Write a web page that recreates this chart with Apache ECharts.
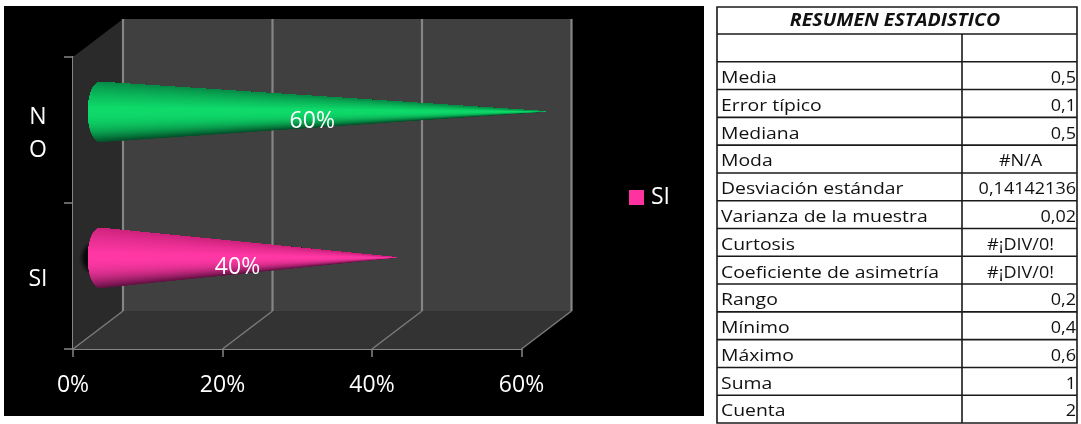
<!DOCTYPE html>
<html><head><meta charset="utf-8">
<style>html,body{margin:0;padding:0;background:#fff}#c{width:1081px;height:424px}</style>
<script src="https://cdn.jsdelivr.net/npm/echarts@6/dist/echarts.min.js"></script>
</head><body><div id="c"></div>
<script>
const categories = ['SI', 'N\nO'];
const values = [0.4, 0.6];
const xTicks = [0, 0.2, 0.4, 0.6];
const seriesName = 'SI';
const tableTitle = 'RESUMEN ESTADISTICO';
const statNames = ['', 'Media', 'Error típico', 'Mediana', 'Moda', 'Desviación estándar', 'Varianza de la muestra', 'Curtosis', 'Coeficiente de asimetría', 'Rango', 'Mínimo', 'Máximo', 'Suma', 'Cuenta'];
const statValues = ['', '0,5', '0,1', '0,5', '#N/A', '0,14142136', '0,02', '#¡DIV/0!', '#¡DIV/0!', '0,2', '0,4', '0,6', '1', '2'];

const palettes = [
  {top:[205,36,125], hi:[255,56,165], bot:[100,18,68]},
  {top:[8,140,72], hi:[15,218,106], bot:[4,80,42]}
];
const DX = 50, DY = 38;
const chartFont = '"Open Sans", sans-serif';
const tableFont = '"Open Sans", sans-serif';

function mix(a, b, t) {
  return 'rgb(' + a.map((v, i) => Math.round(v + (b[i] - v) * t)).join(',') + ')';
}
function shade(p, s) { // s from -1 (top) to 1 (bottom)
  const c = -0.15;
  if (s < c) { const t = (s + 1) / (c + 1); return mix(p.top, p.hi, Math.pow(t, 0.8)); }
  const t = (s - c) / (1 - c); return mix(p.hi, p.bot, Math.pow(t, 2.6));
}

function renderFrame(params, api) {
  const r = params.coordSys;
  const x0 = r.x, x1 = r.x + r.width, yT = r.y, yB = r.y + r.height;
  const kids = [];
  kids.push({type:'polygon', shape:{points:[[x0+DX,yT-DY],[x1+DX,yT-DY],[x1+DX,yB-DY],[x0+DX,yB-DY]]}, style:{fill:'#404040'}});
  kids.push({type:'polygon', shape:{points:[[x0,yT],[x0+DX,yT-DY],[x0+DX,yB-DY],[x0,yB]]}, style:{fill:'#2a2a2a'}});
  kids.push({type:'polygon', shape:{points:[[x0,yB],[x0+DX,yB-DY],[x1+DX,yB-DY],[x1,yB]]}, style:{fill:'#333333'}});
  xTicks.forEach(v => {
    const x = api.coord([v, 0])[0];
    kids.push({type:'line', shape:{x1:x+DX,y1:yT-DY,x2:x+DX,y2:yB-DY}, style:{stroke:'#858585', lineWidth:2.2}});
    kids.push({type:'line', shape:{x1:x,y1:yB,x2:x+DX,y2:yB-DY}, style:{stroke:'#7a7a7a', lineWidth:1.5}});
  });
  return {type:'group', children:kids};
}

function renderCone(params, api) {
  const i = params.dataIndex;
  const tip = api.coord([api.value(0), i]);
  const base = api.coord([0, i]);
  const tx = tip[0] + DX/2, ty = tip[1] - DY/2 + 0.5;
  const cx = base[0] + DX/2 + 2, cy = ty + 0.5, rx = 12, ry = 30;
  const pal = palettes[i];
  const kids = [];
  if (i === 0) {
    kids.push({type:'ellipse', shape:{cx:cx-2, cy:cy, rx:19, ry:43},
      style:{fill:{type:'radial', x:.5, y:.5, r:.5, colorStops:[{offset:0,color:'rgba(0,0,0,.95)'},{offset:.7,color:'rgba(0,0,0,.8)'},{offset:1,color:'rgba(0,0,0,0)'}]}}});
  }
  const N = 70;
  const arc = [];
  for (let k = 0; k <= N; k++) {
    const a = -Math.PI/2 + Math.PI * k / N;
    arc.push([cx - rx*Math.cos(a), cy + ry*Math.sin(a)]);
  }
  // painter's order: bottom shade first, each later shape covers everything above it
  for (let k = N; k >= 1; k--) {
    const a = -Math.PI/2 + Math.PI * (k-0.5) / N;
    kids.push({type:'polygon', shape:{points:[[tx,ty]].concat(arc.slice(0,k+1))}, style:{fill:shade(pal, Math.sin(a))}});
  }
  const mid = api.coord([api.value(0)/2, i]);
  kids.push({type:'text', style:{text:Math.round(api.value(0)*100)+'%', x:mid[0]+DX/2-10, y:mid[1]-DY/2+10, align:'center', verticalAlign:'middle',
    fill:'#fff', font:'23px '+chartFont}});
  return {type:'group', children:kids};
}

const tL=717, tR=1077, tM=962, tT=7, tH=34, tB=423;
const step=(tB-tH)/statNames.length;
const lineStyle={stroke:'#1a1a1a', lineWidth:1.6};
const g=[{type:'rect', z:-1, shape:{x:4,y:6,width:700,height:410}, style:{fill:'#000'}}];
g.push({type:'rect', shape:{x:tL,y:tT,width:tR-tL,height:tB-tT}, style:{fill:'#fff', stroke:'#1a1a1a', lineWidth:1.6}});
g.push({type:'line', shape:{x1:tL,y1:tH,x2:tR,y2:tH}, style:lineStyle});
g.push({type:'line', shape:{x1:tM,y1:tH,x2:tM,y2:tB}, style:lineStyle});
g.push({type:'text', x:(tL+tR)/2-2, y:(tT+tH)/2+1, scaleX:1.15, style:{text:tableTitle, x:0, y:0, align:'center', verticalAlign:'middle', fill:'#111', font:'italic bold 17px '+tableFont}});
statNames.forEach((n,i)=>{
  const yb=tH+step*(i+1), yc=yb-step/2+2.5;
  if(i<statNames.length-1) g.push({type:'line', shape:{x1:tL,y1:yb,x2:tR,y2:yb}, style:lineStyle});
  g.push({type:'text', x:tL+4, y:yc, scaleX:1.14, style:{text:n, x:0, y:0, align:'left', verticalAlign:'middle', fill:'#111', font:'17px '+tableFont}});
  const v=statValues[i], center=v.charAt(0)==='#';
  g.push({type:'text', x:center?(tM+tR)/2+1:tR-1, y:yc, scaleX:1.06, style:{text:v, x:0, y:0, align:center?'center':'right', verticalAlign:'middle', fill:'#111', font:'17px '+tableFont}});
});

const chart=echarts.init(document.getElementById('c'),null,{renderer:'canvas'});
chart.setOption({
  animation:false,
  backgroundColor:'#fff',
  graphic:g,
  legend:{data:[{name:seriesName, icon:'rect', itemStyle:{color:'#ff33a0'}}], left:629, top:186, itemWidth:15, itemHeight:15, itemGap:0,
    textStyle:{color:'#fff', fontSize:23, fontFamily:chartFont, padding:[2,0,0,2]}, selectedMode:false, padding:0},
  grid:{left:73, top:57, width:448.5, height:292, containLabel:false},
  xAxis:{type:'value', min:0, max:0.6, interval:0.2,
    axisLine:{show:true, lineStyle:{color:'#858585', width:2}},
    axisTick:{show:true, length:8, lineStyle:{color:'#858585', width:1.5}},
    splitLine:{show:false},
    axisLabel:{color:'#fff', fontSize:23, fontFamily:chartFont, margin:25, formatter:v=>Math.round(v*100)+'%'}},
  yAxis:{type:'category', data:categories,
    axisLine:{show:true, lineStyle:{color:'#858585', width:2}},
    axisTick:{show:true, length:9, alignWithLabel:false, lineStyle:{color:'#858585', width:1.5}},
    splitLine:{show:false},
    axisLabel:{margin:35, align:'center',
      formatter:v=>'{g| }\n'+v.split('\n').map(s=>'{a|'+s+'}').join('\n'),
      rich:{g:{fontSize:4, lineHeight:7}, a:{color:'#fff', fontSize:23, fontFamily:chartFont, lineHeight:33, align:'center'}}}},
  series:[
    {type:'custom', name:'frame', silent:true, z:1, data:[0], renderItem:renderFrame, encode:{x:0,y:0}},
    {type:'custom', name:seriesName, z:3, data:values.map((v,i)=>[v,i]), encode:{x:0,y:1}, renderItem:renderCone}
  ]
});
</script></body></html>
